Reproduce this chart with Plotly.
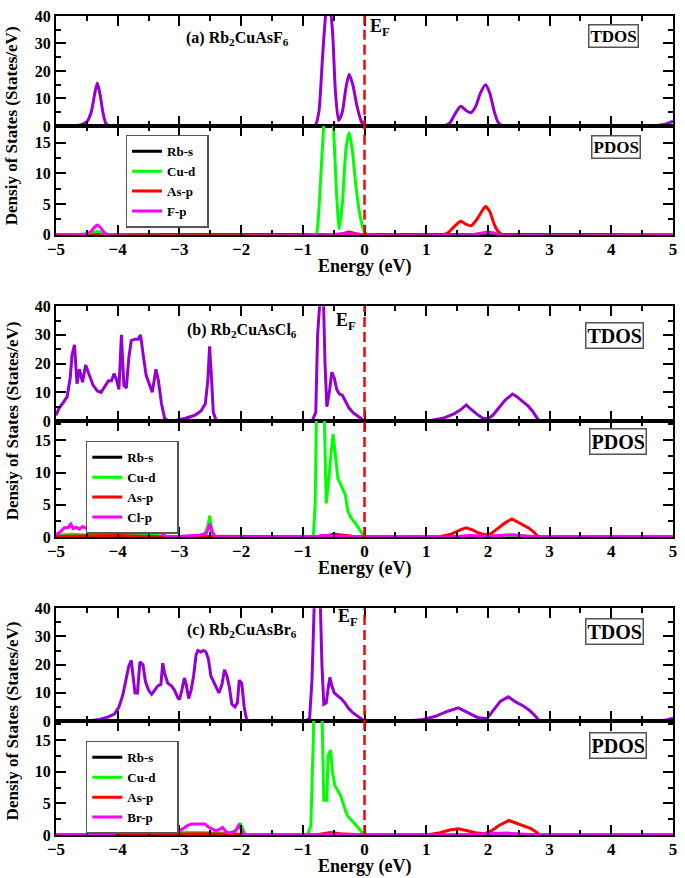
import plotly.graph_objects as go

# ---------------- DATA ----------------
# Panel (a) Rb2CuAsF6
a_tdos_e = [-5.0, -4.75, -4.6, -4.5, -4.43, -4.37, -4.33, -4.29, -4.24, -4.19, -4.12, -1.0, -0.8, -0.74, -0.68,
            -0.62, -0.57, -0.52, -0.47, -0.42, -0.36, -0.30, -0.25, -0.19, -0.12, -0.05, 0.0, 0.1, 1.27, 1.38,
            1.47, 1.56, 1.65, 1.72, 1.80, 1.88, 1.96, 2.03, 2.10, 2.16, 2.22, 2.3, 4.6, 4.8, 4.9, 5.0]
a_tdos_v = [0, 0, 0.4, 1.5, 5, 12, 15.6, 12, 5, 0.8, 0, 0, 0.2, 5, 25,
            42, 45, 35, 12, 2, 5, 14, 18.8, 15, 7, 1.5, 0.2, 0, 0, 1,
            4.5, 7.2, 5.5, 4.8, 7, 12, 15, 12, 5.5, 1.5, 0.2, 0, 0, 0.3, 0.8, 1.8]

a_rbs_e = [-5.0, 5.0]
a_rbs_v = [0, 0]
a_cud_e = [-5, -4.6, -4.45, -4.33, -4.2, -4.05, -0.85, -0.78, -0.74, -0.70, -0.66, -0.60, -0.55, -0.52, -0.46,
           -0.41, -0.36, -0.30, -0.25, -0.20, -0.14, -0.07, 0.0, 0.08, 5]
a_cud_v = [0, 0, 0.2, 0.6, 0.1, 0, 0, 0.2, 4, 11, 18, 28, 28, 22, 8,
           1.0, 5, 14, 16.6, 14, 8, 3, 0.5, 0, 0]
a_asp_e = [-5, -0.5, -0.35, -0.25, -0.15, 0.0, 1.25, 1.35, 1.45, 1.56, 1.65, 1.73, 1.82, 1.90, 1.96, 2.03,
           2.10, 2.17, 2.25, 5]
a_asp_v = [0, 0, 0.2, 0.45, 0.2, 0, 0, 0.3, 1.3, 2.2, 1.7, 1.5, 2.5, 3.8, 4.6, 3.8,
           1.8, 0.5, 0, 0]
a_xp_e = [-5, -4.7, -4.5, -4.42, -4.37, -4.33, -4.28, -4.22, -4.15, -0.6, -0.4, -0.25, -0.1, 0, 1.7, 1.9,
          2.0, 2.1, 2.2, 5]
a_xp_v = [0, 0.05, 0.2, 0.7, 1.3, 1.6, 1.2, 0.4, 0, 0, 0.15, 0.2, 0.1, 0, 0, 0.3,
          0.45, 0.3, 0, 0]

# Panel (b) Rb2CuAsCl6
b_tdos_e = [-5.0, -4.95, -4.88, -4.82, -4.77, -4.74, -4.70, -4.66, -4.62, -4.57, -4.52, -4.46, -4.40, -4.33,
            -4.27, -4.21, -4.15, -4.10, -4.06, -4.02, -3.98, -3.94, -3.90, -3.86, -3.82, -3.78, -3.72, -3.67,
            -3.63, -3.58, -3.54, -3.49, -3.44, -3.38, -3.34, -3.29, -3.24, -3.18, -3.05, -2.9, -2.75, -2.65,
            -2.58, -2.54, -2.51, -2.48, -2.45, -2.41, -2.36, -0.85, -0.79, -0.76, -0.73, -0.68, -0.64, -0.61,
            -0.57, -0.53, -0.49, -0.45, -0.41, -0.36, -0.31, -0.25, -0.18, -0.1, 0.0, 0.9, 1.1, 1.3, 1.45,
            1.55, 1.65, 1.72, 1.82, 1.92, 2.0, 2.08, 2.18, 2.28, 2.4, 2.47, 2.55, 2.65, 2.72, 2.78, 2.83, 5.0]
b_tdos_v = [2, 4.5, 6.5, 8.5, 15, 23, 26.5, 13, 18, 13.5, 19.5, 16, 12.5, 10.5,
            10, 12, 14, 14, 16.5, 14.5, 11, 30, 12.5, 11.5, 22, 28, 28.5, 28.5,
            30, 22, 16, 13, 10, 18, 14, 6, 1, 0, 0.3, 1, 2, 3.5,
            6, 14, 26, 15, 3, 0.5, 0, 0, 3, 30, 55, 55, 20, 5,
            10, 17, 15, 11, 9.5, 9, 7, 4.5, 2.8, 1.5, 0, 0, 0.3, 1.2, 2.5,
            3.8, 5.6, 4.2, 2.4, 1, 0.8, 2, 4.5, 7.3, 9.4, 8.5, 7, 5.3, 3.5, 1.5, 0, 0]

b_rbs_e = [-5.0, 5.0]
b_rbs_v = [0, 0]
b_cud_e = [-5, -4.75, -4.5, -4.2, -3.95, -3.7, -3.4, -3.2, -2.7, -2.58, -2.53, -2.51, -2.48, -2.44, -2.38,
           -0.83, -0.80, -0.77, -0.72, -0.68, -0.65, -0.62, -0.58, -0.53, -0.51, -0.47, -0.43, -0.40, -0.35,
           -0.31, -0.27, -0.22, -0.14, -0.07, 0, 1.5, 2.4, 2.8, 5]
b_cud_v = [0.2, 0.4, 0.3, 0.3, 0.5, 0.4, 0.3, 0, 0.1, 0.6, 2, 3.3, 1.5, 0.2, 0,
           0, 5, 25, 40, 35, 18, 5.2, 9, 14, 16, 12.5, 9, 8.5, 7.5,
           6.5, 4, 3, 2, 1, 0, 0, 0.2, 0, 0]
b_asp_e = [-5, -4, -3.2, -2.55, -0.8, -0.6, -0.5, -0.4, -0.2, 0, 1.2, 1.4, 1.55, 1.65, 1.75, 1.85, 1.95,
           2.05, 2.15, 2.28, 2.39, 2.47, 2.57, 2.66, 2.74, 2.82, 5]
b_asp_v = [0.1, 0.2, 0, 0.1, 0, 0.2, 0.45, 0.3, 0.1, 0, 0, 0.4, 1.1, 1.4, 1.1, 0.6, 0.35,
           0.5, 1.2, 2.2, 2.8, 2.4, 1.9, 1.4, 0.8, 0, 0]
b_xp_e = [-5.0, -4.93, -4.87, -4.80, -4.76, -4.72, -4.67, -4.62, -4.57, -4.52, -4.47, -4.40, -4.33, -4.27,
          -4.2, -4.13, -4.07, -4.02, -3.98, -3.94, -3.90, -3.86, -3.80, -3.75, -3.68, -3.63, -3.58, -3.52,
          -3.46, -3.40, -3.34, -3.28, -3.22, -3.15, -2.9, -2.65, -2.56, -2.51, -2.47, -2.42, -2.36, -0.8,
          -0.7, -0.5, -0.2, 0, 1.4, 1.7, 2.0, 2.4, 2.8, 5]
b_xp_v = [0.3, 0.8, 1.4, 1.5, 2.0, 1.3, 1.5, 1.2, 1.6, 1.4, 1.1, 0.9, 1.0, 1.1,
          1.2, 1.3, 1.2, 1.5, 1.1, 2.7, 1.3, 1.1, 2.2, 2.6, 2.6, 2.7, 2.1, 1.5,
          1.0, 1.7, 1.2, 0.5, 0.1, 0, 0.1, 0.3, 0.6, 2.0, 0.8, 0.1, 0, 0,
          0.2, 0.15, 0.1, 0, 0, 0.2, 0.1, 0.35, 0, 0]

# Panel (c) Rb2CuAsBr6
c_tdos_e = [-5.0, -4.5, -4.3, -4.15, -4.05, -3.98, -3.92, -3.86, -3.82, -3.78, -3.75, -3.72, -3.68, -3.64,
            -3.59, -3.55, -3.50, -3.45, -3.40, -3.35, -3.30, -3.27, -3.24, -3.19, -3.13, -3.08, -3.03, -3.0,
            -2.96, -2.92, -2.89, -2.85, -2.81, -2.77, -2.73, -2.70, -2.65, -2.61, -2.57, -2.53, -2.49, -2.44,
            -2.40, -2.36, -2.31, -2.27, -2.23, -2.19, -2.15, -2.10, -2.06, -2.03, -1.99, -1.95, -1.91, -1.87,
            -0.95, -0.89, -0.85, -0.81, -0.72, -0.69, -0.66, -0.62, -0.58, -0.56, -0.53, -0.49, -0.44, -0.38,
            -0.32, -0.26, -0.19, -0.12, -0.06, 0.0, 0.7, 0.95, 1.15, 1.35, 1.52, 1.67, 1.83, 1.98, 2.08, 2.2,
            2.33, 2.45, 2.58, 2.68, 2.76, 2.84, 4.7, 4.9, 5.0]
c_tdos_v = [0, 0, 0.6, 1.5, 2.6, 5, 9, 15, 19.5, 21.5, 16, 10, 10, 21,
            20, 14, 11, 9.5, 11, 12.5, 13, 20.5, 17, 13.5, 12.5, 11, 8.5, 7.6,
            11, 15.3, 13, 8, 11, 16, 23.5, 25, 24.5, 25, 24.5, 22, 16, 13.5,
            11.5, 10, 13, 18.2, 16, 12, 6, 5, 6.5, 14.5, 13.5, 5, 0.5, 0,
            0, 1, 15, 45, 45, 20, 6, 6.5, 13, 15.5, 12.5, 10, 9, 8,
            6.5, 4.5, 3, 2, 1, 0, 0, 0.6, 1.7, 3.5, 4.7, 3, 1.3, 0.8, 3.5, 7,
            8.6, 6.8, 5.3, 3.7, 2, 0, 0, 0.4, 1]

c_rbs_e = [-5.0, 5.0]
c_rbs_v = [0, 0]
c_cud_e = [-5, -4.3, -4.0, -3.8, -3.5, -3.2, -2.8, -2.6, -2.3, -2.1, -2.05, -2.02, -1.98, -1.93, -1.88,
           -0.92, -0.87, -0.83, -0.79, -0.72, -0.68, -0.66, -0.61, -0.59, -0.55, -0.52, -0.48, -0.43, -0.39,
           -0.33, -0.28, -0.18, -0.09, 0, 5]
c_cud_v = [0, 0, 0.2, 0.4, 0.4, 0.5, 0.4, 0.4, 0.3, 0.5, 1.2, 1.9, 1.0, 0.1, 0,
           0, 1.5, 15, 35, 35, 15, 5.5, 5.5, 12.6, 13.4, 10, 7.8, 7, 6.3,
           4.5, 3.1, 2, 1, 0, 0]
c_asp_e = [-5, -4, -2.6, -2, -1.9, -0.8, -0.65, -0.55, -0.4, 0, 1.0, 1.2, 1.38, 1.52, 1.65, 1.8, 1.95,
           2.05, 2.18, 2.34, 2.45, 2.55, 2.7, 2.78, 2.84, 5]
c_asp_v = [0, 0.1, 0.2, 0.1, 0, 0, 0.3, 0.4, 0.2, 0, 0, 0.3, 0.8, 1.0, 0.7, 0.35, 0.2,
           0.6, 1.5, 2.3, 1.9, 1.5, 1.0, 0.5, 0, 0]
c_xp_e = [-5, -4.3, -4.1, -4.0, -3.9, -3.83, -3.77, -3.72, -3.67, -3.62, -3.56, -3.51, -3.45, -3.38, -3.28,
          -3.22, -3.16, -3.08, -3.01, -2.94, -2.87, -2.80, -2.70, -2.59, -2.52, -2.46, -2.41, -2.35, -2.30,
          -2.25, -2.21, -2.15, -2.09, -2.04, -1.99, -1.95, -1.9, -0.8, -0.6, 0, 1.5, 2.3, 2.8, 5]
c_xp_v = [0, 0, 0.2, 0.4, 0.8, 1.2, 0.8, 0.5, 0.9, 1.2, 0.8, 0.5, 0.7, 0.8, 1.1,
          0.7, 0.4, 0.6, 0.7, 1.0, 1.5, 1.75, 1.8, 1.75, 1.2, 0.9, 0.7, 0.9, 1.2,
          0.6, 0.3, 0.4, 0.7, 1.5, 0.7, 0.1, 0, 0, 0.15, 0, 0, 0.3, 0, 0]

panel_titles = ["(a) Rb<sub>2</sub>CuAsF<sub>6</sub>", "(b) Rb<sub>2</sub>CuAsCl<sub>6</sub>",
                "(c) Rb<sub>2</sub>CuAsBr<sub>6</sub>"]
halogen_names = ["F-p", "Cl-p", "Br-p"]
pdos_names = ["Rb-s", "Cu-d", "As-p"]
tdos_ticks = [0, 10, 20, 30, 40]
pdos_ticks = [0, 5, 10, 15]
x_ticks = [-5, -4, -3, -2, -1, 0, 1, 2, 3, 4, 5]

# ---------------- LAYOUT ----------------
W, H = 685, 878
L, R, T, B = 56, 8, 8, 43
PW, PH = W - L - R, H - T - B


def px(x):
    return (x - L) / PW


def py(y):
    return (H - B - y) / PH


FONT = "Liberation Serif"
PURPLE = "rgb(148,0,211)"
COLS = ["black", "rgb(0,255,0)", "rgb(255,0,0)", "rgb(255,0,255)"]

# pixel rows: (tdos_top, boundary, pdos_bottom)
rows = [(8, 119, 229), (301, 417, 534), (606, 720, 835)]
pdos_top = [17.7, 18.0, 18.0]

tdos_data = [(a_tdos_e, a_tdos_v), (b_tdos_e, b_tdos_v), (c_tdos_e, c_tdos_v)]
pdos_data = [
    [(a_rbs_e, a_rbs_v), (a_cud_e, a_cud_v), (a_asp_e, a_asp_v), (a_xp_e, a_xp_v)],
    [(b_rbs_e, b_rbs_v), (b_cud_e, b_cud_v), (b_asp_e, b_asp_v), (b_xp_e, b_xp_v)],
    [(c_rbs_e, c_rbs_v), (c_cud_e, c_cud_v), (c_asp_e, c_asp_v), (c_xp_e, c_xp_v)],
]

fig = go.Figure()
layout = dict(
    width=W, height=H, margin=dict(l=L, r=R, t=T, b=B),
    paper_bgcolor="white", plot_bgcolor="white",
    font=dict(family=FONT, color="black"),
    showlegend=True,
)
annotations = []
shapes = []

xtickfont = dict(family=FONT, size=17, color="black", weight="bold")
ytickfont = dict(family=FONT, size=16, color="black", weight="bold")


def xaxis_def(anchor, labels):
    return dict(
        range=[-5, 5], domain=[0, 1], anchor=anchor,
        tickvals=x_ticks, showticklabels=labels, tickfont=xtickfont, ticklabelstandoff=-2,
        ticks="inside", ticklen=10, tickwidth=1.5, tickcolor="black",
        minor=dict(dtick=0.5, ticks="inside", ticklen=5, tickwidth=1.5, tickcolor="black"),
        showline=True, linecolor="black", linewidth=2, mirror="ticks",
        showgrid=False, zeroline=False,
    )


def yaxis_def(anchor, dom, rng, tv, mdt):
    return dict(
        range=rng, domain=dom, anchor=anchor, tickvals=tv, tickfont=ytickfont,
        ticks="inside", ticklen=10, tickwidth=1.5, tickcolor="black",
        minor=dict(dtick=mdt, ticks="inside", ticklen=5, tickwidth=1.5, tickcolor="black"),
        showline=True, linecolor="black", linewidth=2, mirror="ticks",
        showgrid=False, zeroline=False,
    )


legend_pos = [(126, 128), (86, 437), (86, 740)]
legend_pad = [2, 5, 5]
title_pos = [(239, 31), (243, 326), (243, 628)]
ef_pos = [(370, 20), (336, 316), (338, 615)]
tbox_pos = [(617, 28), (618, 331), (618, 630)]
pbox_pos = [(620, 140), (622, 438), (622, 745)]
box_font = [17, 20, 20]

for i in range(3):
    top, mid, bot = rows[i]
    nt = 2 * i + 1
    npd = 2 * i + 2
    xt = "x" if nt == 1 else f"x{nt}"
    yt = "y" if nt == 1 else f"y{nt}"
    xp = f"x{npd}"
    yp = f"y{npd}"
    layout["xaxis" if nt == 1 else f"xaxis{nt}"] = xaxis_def(yt, False)
    layout[f"xaxis{npd}"] = xaxis_def(yp, True)
    layout["yaxis" if nt == 1 else f"yaxis{nt}"] = yaxis_def(xt, [py(mid), py(top)], [0, 40], tdos_ticks, 5)
    layout[f"yaxis{npd}"] = yaxis_def(xp, [py(bot), py(mid)], [0, pdos_top[i]], pdos_ticks, 2.5)

    shape_kind = "spline" if i == 0 else "linear"
    e, v = tdos_data[i]
    fig.add_trace(go.Scatter(x=e, y=v, mode="lines", xaxis=xt, yaxis=yt, showlegend=False,
                             line=dict(color=PURPLE, width=3, shape=shape_kind, smoothing=0.6)))
    lname = "legend" if i == 0 else f"legend{i + 1}"
    names = pdos_names + [halogen_names[i]]
    for k, (e, v) in enumerate(pdos_data[i]):
        fig.add_trace(go.Scatter(x=e, y=v, mode="lines", xaxis=xp, yaxis=yp,
                                 name=names[k] + "\u00a0" * legend_pad[i],
                                 legend=lname,
                                 line=dict(color=COLS[k], width=3, shape=shape_kind, smoothing=0.6)))
    lx, ly = legend_pos[i]
    layout[lname] = dict(
        x=px(lx), y=py(ly), xanchor="left", yanchor="top",
        bgcolor="white", bordercolor="#555", borderwidth=1.5,
        font=dict(family=FONT, size=13, color="black", weight="bold"),
        itemwidth=30, tracegroupgap=0,
    )

    # Fermi level dashed line
    shapes.append(dict(type="line", xref=xp, yref="paper", x0=0, x1=0,
                       y0=py(bot), y1=py(top),
                       line=dict(color="red", width=2.5, dash="10px,5px")))

    tx, ty = title_pos[i]
    annotations.append(dict(text=panel_titles[i], xref="paper", yref="paper", x=px(tx), y=py(ty),
                            showarrow=False, xanchor="center", yanchor="middle",
                            font=dict(family=FONT, size=16, color="black", weight="bold")))
    ex, ey = ef_pos[i]
    annotations.append(dict(text="E<sub>F</sub>", xref="paper", yref="paper", x=px(ex), y=py(ey),
                            showarrow=False, xanchor="left", yanchor="middle",
                            font=dict(family=FONT, size=18, color="black", weight="bold")))
    bx, byy = tbox_pos[i]
    annotations.append(dict(text="TDOS", xref="paper", yref="paper", x=px(bx), y=py(byy),
                            showarrow=False, xanchor="center", yanchor="middle",
                            bordercolor="#555", borderwidth=1.5, borderpad=1, bgcolor="white",
                            font=dict(family=FONT, size=box_font[i], color="black", weight="bold")))
    bx, byy = pbox_pos[i]
    annotations.append(dict(text="PDOS", xref="paper", yref="paper", x=px(bx), y=py(byy),
                            showarrow=False, xanchor="center", yanchor="middle",
                            bordercolor="#555", borderwidth=1.5, borderpad=1, bgcolor="white",
                            font=dict(family=FONT, size=box_font[i], color="black", weight="bold")))
    annotations.append(dict(text="Densiy of States (States/eV)", xref="paper", yref="paper",
                            x=px(12), y=py(mid), textangle=-90, showarrow=False,
                            xanchor="center", yanchor="middle",
                            font=dict(family=FONT, size=17, color="black", weight="bold")))
    annotations.append(dict(text="Energy (eV)", xref="paper", yref="paper",
                            x=px(366), y=py(bot + 32), showarrow=False,
                            xanchor="center", yanchor="middle",
                            font=dict(family=FONT, size=18, color="black", weight="bold")))

layout["annotations"] = annotations
layout["shapes"] = shapes
fig.update_layout(**layout)
# remove the browser's default 8px body margin so the figure sits at the page origin
fig.write_html("out.html", config={"displayModeBar": False},
               post_script="document.body.style.margin='0px';")
